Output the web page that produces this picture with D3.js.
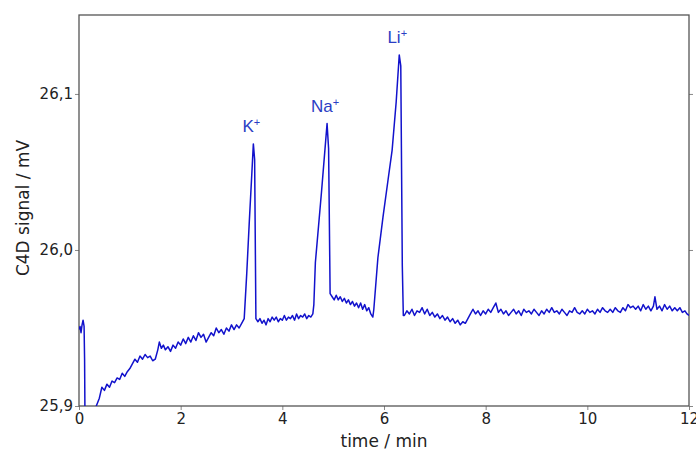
<!DOCTYPE html>
<html>
<head>
<meta charset="utf-8">
<script src="https://cdn.jsdelivr.net/npm/d3@7"></script>
<style>
  body { margin: 0; background: #fff; }
  svg text { font-family: "DejaVu Sans", Verdana, sans-serif; }
</style>
</head>
<body>
<div id="chart"></div>
<script>
// electropherogram values (time in min, signal in mV)
var times = [
  0, 0.02, 0.04, 0.06, 0.08, 0.1, 0.11, 0.12, 0.3, 0.34,
  0.4, 0.45, 0.5, 0.55, 0.6, 0.65, 0.7, 0.75, 0.8, 0.85,
  0.9, 0.95, 1.0, 1.05, 1.1, 1.15, 1.2, 1.25, 1.3, 1.35,
  1.4, 1.45, 1.5, 1.55, 1.58, 1.62, 1.66, 1.7, 1.75, 1.8,
  1.85, 1.9, 1.95, 2.0, 2.05, 2.1, 2.15, 2.2, 2.25, 2.3,
  2.35, 2.4, 2.45, 2.5, 2.55, 2.6, 2.65, 2.7, 2.75, 2.8,
  2.85, 2.9, 2.95, 3.0, 3.05, 3.1, 3.15, 3.2, 3.25,
  3.3, 3.35, 3.4, 3.43, 3.455, 3.48,
  3.52, 3.56, 3.6, 3.64, 3.68, 3.72, 3.76, 3.8, 3.84, 3.88,
  3.92, 3.96, 4.0, 4.04, 4.08, 4.12, 4.16, 4.2, 4.24, 4.28,
  4.32, 4.36, 4.4, 4.44, 4.48, 4.52, 4.56,
  4.6, 4.62, 4.65, 4.77, 4.88, 4.91, 4.94,
  4.98, 5.02, 5.06, 5.1, 5.14, 5.18, 5.22, 5.26, 5.3, 5.34,
  5.38, 5.42, 5.46, 5.5, 5.54, 5.58, 5.62, 5.66, 5.7, 5.74, 5.78,
  5.8, 5.88, 5.98, 6.08, 6.16, 6.24, 6.3, 6.33, 6.36, 6.38,
  6.4, 6.45, 6.5, 6.55, 6.6, 6.65, 6.7, 6.75, 6.8, 6.85,
  6.9, 6.95, 7.0, 7.05, 7.1, 7.15, 7.2, 7.25, 7.3, 7.35,
  7.4, 7.45, 7.5, 7.55, 7.6, 7.65, 7.7, 7.75, 7.8, 7.85,
  7.9, 7.95, 8.0, 8.05, 8.1, 8.15, 8.2, 8.25, 8.3, 8.35,
  8.4, 8.45, 8.5, 8.55, 8.6, 8.65, 8.7, 8.75, 8.8, 8.85,
  8.9, 8.95, 9.0, 9.05, 9.1, 9.15, 9.2, 9.25, 9.3, 9.35,
  9.4, 9.45, 9.5, 9.55, 9.6, 9.65, 9.7, 9.75, 9.8, 9.85,
  9.9, 9.95, 10.0, 10.05, 10.1, 10.15, 10.2, 10.25, 10.3, 10.35,
  10.4, 10.45, 10.5, 10.55, 10.6, 10.65, 10.7, 10.75, 10.8, 10.85,
  10.9, 10.95, 11.0, 11.05, 11.1, 11.15, 11.2, 11.25, 11.3, 11.33,
  11.37, 11.42, 11.47, 11.52, 11.57, 11.62, 11.67, 11.72, 11.77, 11.82,
  11.87, 11.92, 11.96, 12.0
];
var signal = [
  25.949, 25.951, 25.947, 25.952, 25.955, 25.951, 25.93, 25.88, 25.88, 25.90,
  25.905, 25.912, 25.910, 25.914, 25.912, 25.916, 25.915, 25.918, 25.917, 25.921,
  25.919, 25.922, 25.924, 25.927, 25.930, 25.928, 25.932, 25.930, 25.933, 25.931,
  25.932, 25.929, 25.930, 25.936, 25.941, 25.937, 25.939, 25.936, 25.938, 25.935,
  25.939, 25.937, 25.941, 25.939, 25.943, 25.940, 25.944, 25.941, 25.945, 25.942,
  25.947, 25.944, 25.946, 25.941, 25.944, 25.947, 25.945, 25.950, 25.947, 25.949,
  25.946, 25.950, 25.948, 25.952, 25.949, 25.952, 25.950, 25.953, 25.956,
  25.985, 26.018, 26.049, 26.068, 26.058, 25.956,
  25.954, 25.956, 25.953, 25.955, 25.952, 25.956, 25.954, 25.957, 25.955, 25.957,
  25.954, 25.956, 25.955, 25.958, 25.955, 25.957, 25.956, 25.958, 25.955, 25.959,
  25.956, 25.958, 25.957, 25.959, 25.956, 25.958, 25.957,
  25.959, 25.965, 25.992, 26.037, 26.081, 26.065, 25.972,
  25.970, 25.968, 25.971, 25.968, 25.970, 25.967, 25.969, 25.966, 25.968, 25.965,
  25.967, 25.964, 25.966, 25.963, 25.966, 25.962, 25.965, 25.961, 25.963, 25.959, 25.957,
  25.962, 25.995, 26.021, 26.045, 26.064, 26.095, 26.125, 26.118, 25.990, 25.958,
  25.958, 25.961, 25.959, 25.962, 25.958, 25.961, 25.960, 25.963, 25.959, 25.962,
  25.958, 25.960, 25.957, 25.959, 25.956, 25.958, 25.955, 25.957, 25.954, 25.956,
  25.953, 25.955, 25.952, 25.954, 25.953, 25.956, 25.959, 25.962, 25.959, 25.961,
  25.958, 25.961, 25.959, 25.962, 25.960, 25.963, 25.966, 25.960, 25.962, 25.959,
  25.961, 25.958, 25.960, 25.962, 25.959, 25.961, 25.958, 25.962, 25.960, 25.961,
  25.959, 25.962, 25.960, 25.958, 25.961, 25.959, 25.962, 25.960, 25.963, 25.960,
  25.961, 25.959, 25.962, 25.960, 25.958, 25.961, 25.960, 25.963, 25.960, 25.959,
  25.961, 25.959, 25.962, 25.960, 25.961, 25.959, 25.962, 25.960, 25.963, 25.961,
  25.960, 25.962, 25.960, 25.963, 25.961, 25.960, 25.963, 25.961, 25.965, 25.963,
  25.964, 25.962, 25.964, 25.961, 25.965, 25.962, 25.964, 25.961, 25.964, 25.970,
  25.962, 25.964, 25.961, 25.965, 25.962, 25.964, 25.961, 25.963, 25.961, 25.963,
  25.960, 25.961, 25.959, 25.958
];

var xTicks = [0, 2, 4, 6, 8, 10, 12];
var yTicks = [25.9, 26.0, 26.1];

var peakNames = ["K", "Na", "Li"];
var peakTimes = [3.43, 4.88, 6.3];
var peakTops = [26.068, 26.081, 26.125];

var width = 696, height = 450;
var margin = {top: 15, right: 7, bottom: 44, left: 79};

var svg = d3.select("#chart").append("svg").attr("width", width).attr("height", height);

var xScale = d3.scaleLinear().domain([0, 12]).range([margin.left, width - margin.right]);
var yScale = d3.scaleLinear().domain([25.9, 26.1506]).range([height - margin.bottom, margin.top]);

var fmt = function(d) { return d3.format(".1f")(d).replace(".", ","); };

//axes
var xAxis = svg.append("g").attr("transform", "translate(0," + (height - margin.bottom) + ")")
  .call(d3.axisBottom(xScale).tickValues(xTicks).tickSize(4).tickSizeOuter(0).tickPadding(3));
var yAxis = svg.append("g").attr("transform", "translate(" + margin.left + ",0)")
  .call(d3.axisLeft(yScale).tickValues(yTicks).tickFormat(fmt).tickSize(4).tickSizeOuter(0).tickPadding(2));
var yAxisR = svg.append("g").attr("transform", "translate(" + (width - margin.right) + ",0)")
  .call(d3.axisRight(yScale).tickValues(yTicks).tickFormat("").tickSize(4).tickSizeOuter(0));

[xAxis, yAxis, yAxisR].forEach(function(g) {
  g.select(".domain").remove();
  g.selectAll("line").attr("stroke", "#888");
  g.selectAll("text").attr("fill", "#222").style("font-size", "15px");
});

//frame
svg.append("rect")
  .attr("x", margin.left).attr("y", margin.top)
  .attr("width", width - margin.left - margin.right)
  .attr("height", height - margin.top - margin.bottom)
  .attr("fill", "none").attr("stroke", "#555").attr("stroke-width", 1.3);

//line, clipped to plot area
svg.append("clipPath").attr("id", "clip").append("rect")
  .attr("x", margin.left).attr("y", margin.top)
  .attr("width", width - margin.left - margin.right)
  .attr("height", height - margin.top - margin.bottom);

var line = d3.line().x(function(d, i) { return xScale(times[i]); }).y(function(d) { return yScale(d); });

svg.append("path").datum(signal)
  .attr("clip-path", "url(#clip)")
  .attr("d", line)
  .attr("fill", "none").attr("stroke", "#1212cc").attr("stroke-width", 1.5)
  .attr("stroke-linejoin", "round");

//peak labels
peakNames.forEach(function(name, i) {
  var t = svg.append("text")
    .attr("x", xScale(peakTimes[i]) - 2)
    .attr("y", yScale(peakTops[i]) - 12)
    .attr("text-anchor", "middle")
    .attr("fill", "#2b3dc4")
    .style("font-family", "'Liberation Sans', Arial, sans-serif")
    .style("font-size", "17px");
  t.append("tspan").text(name);
  t.append("tspan").attr("dy", -6).style("font-size", "11px").text("+");
});

//axis titles
svg.append("text").attr("x", xScale(6)).attr("y", 447)
  .attr("text-anchor", "middle").attr("fill", "#222").style("font-size", "17px").text("time / min");
svg.append("text").attr("transform", "translate(29,208) rotate(-90)")
  .attr("text-anchor", "middle").attr("fill", "#222").style("font-size", "17px").text("C4D signal / mV");
</script>
</body>
</html>
